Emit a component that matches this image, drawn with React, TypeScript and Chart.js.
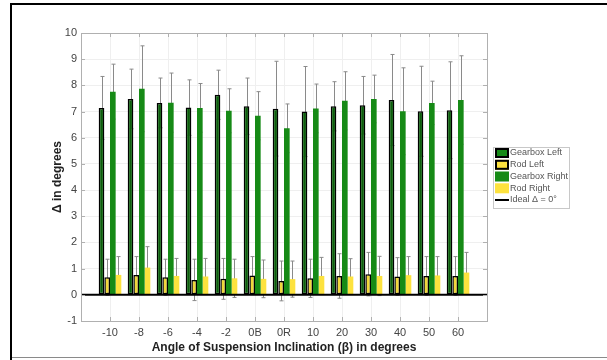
import React, { useEffect, useRef } from "react";
import { Chart, registerables } from "chart.js";
Chart.register(...registerables);

const categories = ["-10", "-8", "-6", "-4", "-2", "0B", "0R", "10", "20", "30", "40", "50", "60"];
const gearboxLeft = [7.14, 7.48, 7.33, 7.15, 7.64, 7.2, 7.11, 7.0, 7.2, 7.24, 7.44, 7.01, 7.05];
const gearboxLeftErr = [1.2, 1.14, 0.95, 1.06, 0.94, 1.08, 1.81, 1.72, 0.94, 1.1, 1.74, 1.72, 1.85];
const rodLeft = [0.67, 0.76, 0.67, 0.57, 0.61, 0.74, 0.53, 0.63, 0.72, 0.79, 0.7, 0.72, 0.72];
const rodLeftErr = [0.69, 0.7, 0.69, 0.79, 0.78, 0.72, 0.76, 0.73, 0.85, 0.83, 0.72, 0.74, 0.74];
const gearboxRight = [7.76, 7.87, 7.34, 7.14, 7.03, 6.84, 6.36, 7.12, 7.41, 7.48, 7.01, 7.33, 7.44];
const gearboxRightErr = [1.05, 1.64, 1.13, 0.93, 0.84, 0.92, 0.93, 0.93, 1.11, 0.91, 1.66, 0.83, 1.69];
const rodRight = [0.76, 1.04, 0.72, 0.7, 0.63, 0.61, 0.6, 0.72, 0.7, 0.72, 0.75, 0.74, 0.85];
const rodRightErr = [0.7, 0.8, 0.67, 0.69, 0.73, 0.72, 0.69, 0.71, 0.68, 0.75, 0.71, 0.72, 0.77];
const idealValue = 0;
const yMin = -1;
const yMax = 10;

const seriesNames = ["Gearbox Left", "Rod Left", "Gearbox Right", "Rod Right"];
const idealName = "Ideal \u0394 = 0\u00B0";

const FONT = "Arial, 'Liberation Sans', Helvetica, sans-serif";

const pad = (a: (number | null)[]) => [null, ...a, null];

export default function App() {
  const ref = useRef<HTMLCanvasElement | null>(null);

  useEffect(() => {
    if (!ref.current) return;
    const labels = ["", ...categories, ""];
    const errs = [gearboxLeftErr, rodLeftErr, gearboxRightErr, rodRightErr];
    const vals = [gearboxLeft, rodLeft, gearboxRight, rodRight];
    const fills = ["#0c5f0c", "#f2d83a", "#168a16", "#fde23e"];
    const borders = ["#000000", "#000000", "#168a16", "#fde23e"];
    const bws = [1.5, 1.5, 0, 0];

    const framePlugin = {
      id: "frameAndExtras",
      beforeDatasetsDraw(chart: any) {
        const ctx = chart.ctx;
        const ys = chart.scales.y;
        ctx.save();
        // error bars (drawn behind the bars)
        for (let d = 0; d < 4; d++) {
          const meta = chart.getDatasetMeta(d);
          meta.data.forEach((el: any, i: number) => {
            if (i === 0 || i === labels.length - 1) return;
            const v = vals[d][i - 1];
            const e = errs[d][i - 1];
            const x = Math.round(el.x) + 0.5;
            const yt = ys.getPixelForValue(v + e);
            const yb = ys.getPixelForValue(v - e);
            ctx.strokeStyle = "#8a8a8a";
            ctx.lineWidth = 1;
            ctx.beginPath();
            ctx.moveTo(x, yt);
            ctx.lineTo(x, yb);
            ctx.moveTo(x - 2, yt);
            ctx.lineTo(x + 2, yt);
            ctx.moveTo(x - 2, yb);
            ctx.lineTo(x + 2, yb);
            ctx.stroke();
          });
        }
        ctx.restore();
      },
      afterDraw(chart: any) {
        const ctx = chart.ctx;
        const { left, right, top, bottom } = chart.chartArea;
        const xs = chart.scales.x;
        const ys = chart.scales.y;
        ctx.save();
        // axes box
        ctx.strokeStyle = "#b0b0b0";
        ctx.lineWidth = 1;
        ctx.strokeRect(Math.round(left) + 0.5, Math.round(top) + 0.5, Math.round(right - left), Math.round(bottom - top));
        // inward ticks
        ctx.beginPath();
        for (let v = yMin; v <= yMax; v++) {
          const y = Math.round(ys.getPixelForValue(v)) + 0.5;
          ctx.moveTo(left, y);
          ctx.lineTo(left + 4, y);
          ctx.moveTo(right, y);
          ctx.lineTo(right - 4, y);
        }
        for (let i = 1; i < labels.length - 1; i++) {
          const x = Math.round(xs.getPixelForValue(i)) + 0.5;
          ctx.moveTo(x, bottom);
          ctx.lineTo(x, bottom - 4);
          ctx.moveTo(x, top);
          ctx.lineTo(x, top + 4);
        }
        ctx.stroke();

        // legend
        const lx = 493, ly = 147, lw = 76, lh = 61;
        ctx.fillStyle = "#ffffff";
        ctx.fillRect(lx, ly, lw, lh);
        ctx.strokeStyle = "#c8c8c8";
        ctx.strokeRect(lx + 0.5, ly + 0.5, lw, lh);
        const rows = [153, 164.8, 176.5, 188.3, 200];
        ctx.font = `9px ${FONT}`;
        ctx.textBaseline = "middle";
        ctx.textAlign = "left";
        const legendFills = ["#168a16", "#fde23e", "#168a16", "#fde23e"];
        for (let r = 0; r < 4; r++) {
          const cy = rows[r];
          ctx.fillStyle = legendFills[r];
          ctx.fillRect(495, cy - 5, 14, 10);
          if (bws[r] > 0) {
            ctx.strokeStyle = "#000";
            ctx.lineWidth = 2;
            ctx.strokeRect(496, cy - 4, 12, 8);
          }
          ctx.fillStyle = "#555555";
          ctx.fillText(seriesNames[r], 510, cy);
        }
        ctx.strokeStyle = "#000";
        ctx.lineWidth = 2;
        ctx.beginPath();
        ctx.moveTo(495, rows[4]);
        ctx.lineTo(509, rows[4]);
        ctx.stroke();
        ctx.fillStyle = "#555555";
        ctx.fillText(idealName, 510, rows[4]);

        // outer frame
        ctx.fillStyle = "#000";
        ctx.fillRect(10, 3, 2, 357);
        ctx.fillRect(10, 3, 597, 2);
        ctx.fillStyle = "#8a8a8a";
        ctx.fillRect(12, 357, 595, 1);
        ctx.restore();
      },
    };

    const chart = new Chart(ref.current, {
      type: "bar",
      data: {
        labels,
        datasets: [
          ...[0, 1, 2, 3].map((d) => ({
            type: "bar" as const,
            label: seriesNames[d],
            data: pad(vals[d]),
            backgroundColor: fills[d],
            borderColor: borders[d],
            borderWidth: bws[d],
            borderSkipped: false,
            categoryPercentage: 0.78,
            barPercentage: 1.0,
            order: 2,
          })),
          {
            type: "line" as const,
            label: idealName,
            data: labels.map(() => idealValue),
            borderColor: "#000000",
            borderWidth: 2,
            pointRadius: 0,
            fill: false,
            order: 0,
          },
        ],
      },
      options: {
        responsive: false,
        animation: false,
        devicePixelRatio: 1,
        layout: { padding: { top: 33, right: 120, left: 0, bottom: 0 } },
        plugins: { legend: { display: false }, tooltip: { enabled: false } },
        scales: {
          x: {
            type: "category",
            offset: false,
            grid: { offset: false, color: "#efefef", drawTicks: false },
            border: { display: false },
            ticks: {
              autoSkip: false,
              maxRotation: 0,
              padding: 5,
              color: "#444444",
              font: { family: FONT, size: 11 },
            },
            title: {
              display: true,
              text: "Angle of Suspension Inclination (\u03B2) in degrees",
              color: "#222222",
              font: { family: FONT, size: 12, weight: "bold" },
              padding: { top: 0, bottom: 5 },
            },
            afterFit: (s: any) => {
              s.height = 39;
            },
          },
          y: {
            min: yMin,
            max: yMax,
            grid: { color: "#efefef", drawTicks: false },
            border: { display: false },
            ticks: {
              stepSize: 1,
              padding: 4,
              color: "#444444",
              font: { family: FONT, size: 11 },
            },
            title: {
              display: true,
              text: "\u0394 in degrees",
              color: "#222222",
              font: { family: FONT, size: 12, weight: "bold" },
              padding: { top: 50, bottom: 0 },
            },
            afterFit: (s: any) => {
              s.width = 81;
            },
          },
        },
      },
      plugins: [framePlugin],
    } as any);
    return () => chart.destroy();
  }, []);

  return (
    <div style={{ position: "absolute", left: 0, top: 0, width: 607, height: 360, background: "#fff" }}>
      <canvas ref={ref} width={607} height={360} style={{ display: "block" }} />
    </div>
  );
}
